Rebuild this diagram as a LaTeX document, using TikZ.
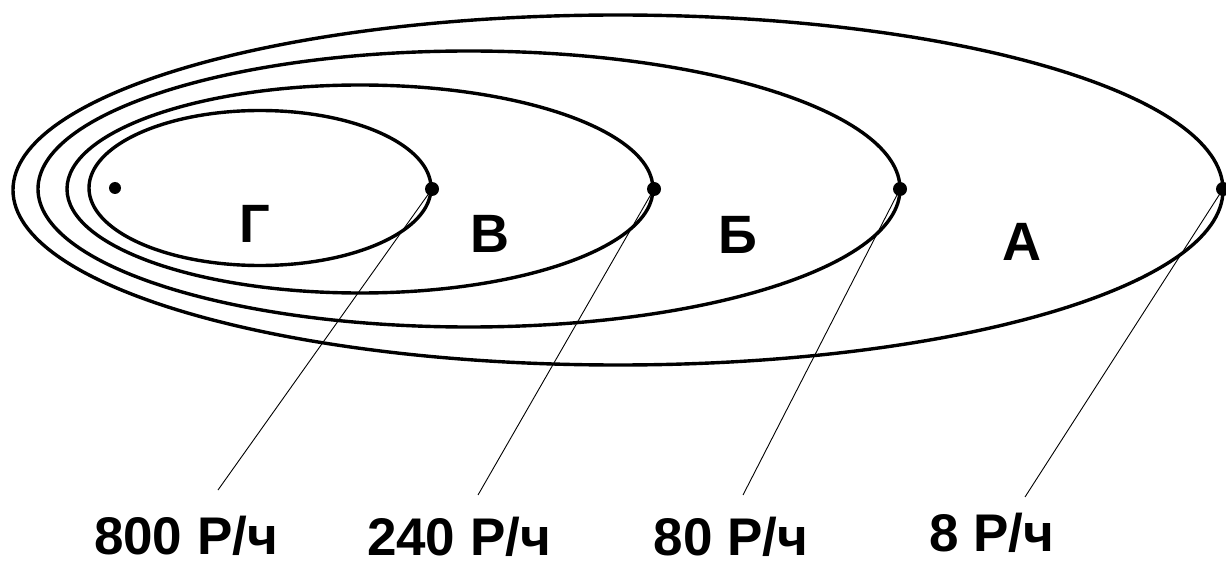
\documentclass[tikz,border=0pt]{standalone}
\usepackage{fontspec}
\setmainfont{Liberation Sans}
\begin{document}
\begin{tikzpicture}[x=1pt,y=-1pt,
  oval/.style={draw=black,line width=3.4pt},
  dot/.style={circle,fill=black,inner sep=0pt,minimum size=14pt},
  leader/.style={draw=black,line width=0.9pt},
  zone/.style={font=\fontsize{54}{60}\selectfont\bfseries,anchor=base,inner sep=0pt},
  rate/.style={font=\fontsize{53}{58}\selectfont\bfseries,anchor=base,inner sep=0pt}]
\useasboundingbox (0,0) rectangle (1226,564);
% ovals
\draw[oval] (618,190) ellipse [x radius=605pt, y radius=175pt];
\draw[oval] (469,189) ellipse [x radius=431pt, y radius=138pt];
\draw[oval] (360,189) ellipse [x radius=293pt, y radius=104pt];
\draw[oval] (260,188) ellipse [x radius=171pt, y radius=77.5pt];
% dots
\node[dot,minimum size=12pt] (d0) at (115,188) {};
\node[dot] (d1) at (432,189) {};
\node[dot] (d2) at (654,189) {};
\node[dot] (d3) at (900,189) {};
\node[dot] (d4) at (1223,189) {};
% zone letters
\node[zone] (zG) at (255,243) {Г};
\node[zone] (zV) at (490,252) {В};
\node[zone] (zB) at (738,253) {Б};
\node[zone] (zA) at (1022,260) {А};
% leader ends
\coordinate (e1) at (218,490);
\coordinate (e2) at (478,495);
\coordinate (e3) at (743,495);
\coordinate (e4) at (1025,497);
\draw[leader] (d1.center) -- (e1);
\draw[leader] (d2.center) -- (e2);
\draw[leader] (d3.center) -- (e3);
\draw[leader] (d4.center) -- (e4);
% rate labels
\node[rate] (r1) at (186,554) {800 Р/ч};
\node[rate] (r2) at (459,555) {240 Р/ч};
\node[rate] (r3) at (731,555) {80 Р/ч};
\node[rate] (r4) at (992,551) {8 Р/ч};
\end{tikzpicture}
\end{document}
